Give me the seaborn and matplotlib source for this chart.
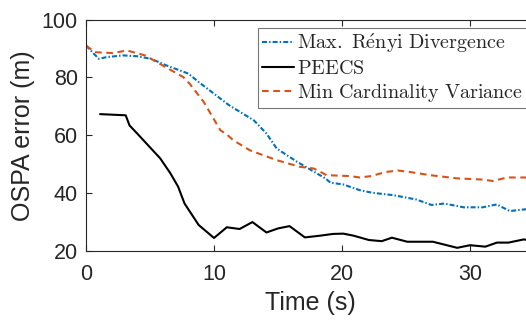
import matplotlib
matplotlib.use("Agg")
import matplotlib.pyplot as plt
import seaborn as sns
import pandas as pd

# Max. Renyi Divergence
renyi_t = [0, 1.0, 1.6, 2.9, 4.0, 5.1, 6.3, 8.0, 8.8, 11.2, 13.1, 14.1, 14.9, 16.5, 18.7,
           19.1, 20.1, 21.4, 22.4, 24.0, 25.8, 27.0, 28.0, 29.5, 31.0, 32.1, 33.1, 34.3, 35.0]
renyi_ospa = [91.0, 86.4, 87.0, 87.6, 87.3, 86.4, 84.1, 81.3, 78.4, 70.3, 65.2, 60.6, 55.4, 50.8, 45.1,
              43.6, 43.0, 41.0, 40.1, 39.3, 37.8, 35.9, 36.4, 35.1, 35.1, 36.1, 33.8, 34.4, 34.5]

# PEECS
peecs_t = [1.1, 3.1, 3.4, 4.0, 5.8, 6.6, 7.2, 7.5, 7.7, 8.8, 10.0, 11.0, 12.0, 13.0, 14.1, 15.0,
           15.9, 17.1, 18.3, 19.3, 20.1, 20.9, 22.1, 23.1, 23.9, 25.1, 27.1, 29.0, 30.0, 31.2,
           32.1, 33.0, 34.2, 35.0]
peecs_ospa = [67.3, 66.9, 63.4, 60.6, 52.0, 46.8, 42.2, 38.7, 36.4, 29.0, 24.5, 28.2, 27.6, 30.0, 26.4, 27.8,
              28.6, 24.7, 25.3, 25.9, 26.0, 25.3, 23.8, 23.4, 24.6, 23.2, 23.2, 21.1, 22.0, 21.5,
              22.9, 22.9, 24.0, 23.4]

# Min Cardinality Variance
mcv_t = [0, 0.7, 2.1, 3.2, 4.6, 6.2, 7.6, 8.1, 9.2, 10.5, 11.0, 11.5, 12.8, 14.9, 16.7, 17.8,
         18.8, 20.6, 21.4, 22.3, 23.4, 24.4, 25.3, 26.9, 29.0, 30.9, 31.8, 32.9, 34.3, 35.0]
mcv_ospa = [91.0, 88.7, 88.4, 89.3, 87.6, 83.6, 80.1, 77.8, 71.5, 61.7, 60.3, 58.3, 54.8, 51.4, 49.1, 48.5,
            46.2, 45.9, 45.4, 45.9, 47.3, 47.8, 47.3, 46.2, 45.1, 44.7, 44.2, 45.4, 45.4, 45.4]

series = [
    (renyi_t, renyi_ospa, r"$\mathrm{Max.\ R\acute{e}nyi\ Divergence}$", "#0072BD", (0, (2.4, 1.0, 0.7, 1.0))),
    (peecs_t, peecs_ospa, r"$\mathrm{PEECS}$", "black", "-"),
    (mcv_t, mcv_ospa, r"$\mathrm{Min\ Cardinality\ Variance}$", "#D95319", (0, (3.2, 2.2))),
]

sns.set_style("ticks")
plt.rcParams["font.family"] = ["Liberation Sans", "DejaVu Sans"]
plt.rcParams["mathtext.fontset"] = "cm"

fig = plt.figure(figsize=(5.26, 3.2), dpi=100)
ax = fig.add_axes([86 / 526, 69 / 320, 448 / 526, 231.5 / 320])

for t, y, name, color, ls in series:
    df = pd.DataFrame({"t": t, "ospa": y})
    sns.lineplot(data=df, x="t", y="ospa", ax=ax, color=color, linestyle=ls,
                 linewidth=1.5, label=name)

ax.set_xlim(0, 35)
ax.set_ylim(20, 100)
ax.set_xticks([0, 10, 20, 30])
ax.set_yticks([20, 40, 60, 80, 100])
ax.set_xlabel("Time (s)", fontsize=18, color="#262626", labelpad=5)
ax.set_ylabel("OSPA error (m)", fontsize=18, color="#262626", labelpad=5)
ax.tick_params(direction="in", length=4, width=0.8, colors="#262626", labelsize=15.5,
               top=True, right=True)
ax.tick_params(axis="x", pad=9)
ax.tick_params(axis="y", pad=6)
for s in ax.spines.values():
    s.set_visible(True)
    s.set_color("#262626")
    s.set_linewidth(0.8)

leg = ax.legend(loc="upper left", bbox_to_anchor=(258 / 526, 1 - 27.7 / 320),
                bbox_transform=fig.transFigure, borderaxespad=0, fontsize=14.5,
                frameon=True, fancybox=False, edgecolor="#777777", framealpha=1,
                handlelength=1.6, handletextpad=0.15, labelspacing=0.2, borderpad=0.2)
leg.get_frame().set_linewidth(0.8)

fig.savefig("out.png", dpi=100)
